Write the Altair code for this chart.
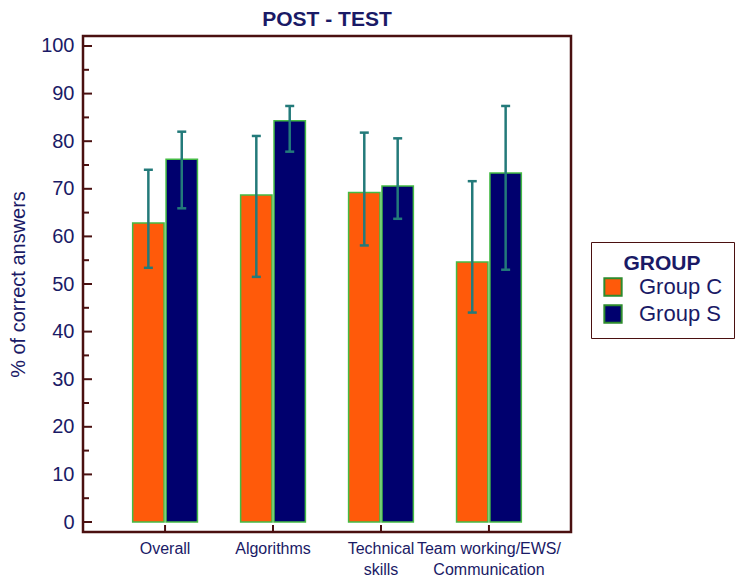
import altair as alt
import pandas as pd

categories = ["Overall", "Algorithms", "Technical skills", "Team working/EWS/Communication"]
groups = ["Group C", "Group S"]
group_c_mean = [62.8, 68.7, 69.2, 54.6]
group_c_low = [53.4, 51.5, 58.1, 44.0]
group_c_high = [74.0, 81.1, 81.8, 71.6]
group_s_mean = [76.2, 84.3, 70.6, 73.3]
group_s_low = [65.9, 77.8, 63.7, 53.0]
group_s_high = [82.0, 87.4, 80.6, 87.4]
major_ticks = [0, 10, 20, 30, 40, 50, 60, 70, 80, 90, 100]
minor_ticks = [5, 15, 25, 35, 45, 55, 65, 75, 85, 95]

rows = []
for i, c in enumerate(categories):
    rows.append({"category": c, "group": groups[0], "mean": group_c_mean[i],
                 "low": group_c_low[i], "high": group_c_high[i]})
    rows.append({"category": c, "group": groups[1], "mean": group_s_mean[i],
                 "low": group_s_low[i], "high": group_s_high[i]})
df = pd.DataFrame(rows)
df_major = pd.DataFrame({"v": major_ticks})
df_minor = pd.DataFrame({"v": minor_ticks})
df_cat = pd.DataFrame({"category": categories})

W, H = 488, 496
NAVY = "#1a1a66"
MAROON = "#4a1010"
FONT = "Liberation Sans"

yscale = alt.Scale(domain=[-2.1, 102.1], nice=False, zero=False)
xscale = alt.Scale(domain=categories, paddingInner=0.4, paddingOuter=0.46)
xoff = alt.XOffset("group:N", scale=alt.Scale(domain=groups, paddingInner=0.06))

label_expr = ("datum.label == 'Technical skills' ? ['Technical', 'skills'] : "
              "datum.label == 'Team working/EWS/Communication' ? ['Team working/EWS/', 'Communication'] : datum.label")

xaxis = alt.Axis(title=None, labelAngle=0, ticks=False, domain=False, grid=False,
                 labelFont=FONT, labelFontSize=16, labelColor=NAVY, labelPadding=8,
                 labelLineHeight=21, labelExpr=label_expr, labelLimit=300)
yaxis = alt.Axis(title="% of correct answers", values=major_ticks, ticks=False, domain=False,
                 grid=False, labelFont=FONT, labelFontSize=20, labelColor=NAVY, labelPadding=9,
                 titleFont=FONT, titleFontSize=20, titleFontWeight="normal", titleColor=NAVY,
                 titlePadding=12)

bars = alt.Chart(df).mark_bar(stroke="#44bb44", strokeWidth=1.5).encode(
    x=alt.X("category:N", sort=categories, scale=xscale, axis=xaxis),
    xOffset=xoff,
    y=alt.Y("mean:Q", scale=yscale, axis=yaxis),
    y2=alt.datum(0),
    color=alt.Color("group:N", scale=alt.Scale(domain=groups, range=["#ff5a0a", "#00006e"]),
                    legend=alt.Legend(title="GROUP", orient="none", legendX=508, legendY=206,
                                      titleFont=FONT, titleFontSize=21, titleColor=NAVY,
                                      titleFontWeight="bold", titleAnchor="middle", titlePadding=2,
                                      labelFont=FONT, labelFontSize=22, labelColor=NAVY,
                                      labelOffset=15, symbolType="square", symbolSize=300,
                                      symbolStrokeColor="#2e8b2e", symbolStrokeWidth=2,
                                      symbolOpacity=1, rowPadding=1, padding=11,
                                      strokeColor=MAROON, fillColor="white")),
)

err = alt.Chart(df).mark_rule(color="#237a7a", strokeWidth=2.5).encode(
    x=alt.X("category:N", sort=categories, scale=xscale),
    xOffset=xoff,
    y=alt.Y("low:Q", scale=yscale),
    y2="high:Q",
)
cap_lo = alt.Chart(df).mark_tick(color="#237a7a", size=9, thickness=2.5, opacity=1).encode(
    x=alt.X("category:N", sort=categories, scale=xscale),
    xOffset=xoff,
    y=alt.Y("low:Q", scale=yscale),
)
cap_hi = alt.Chart(df).mark_tick(color="#237a7a", size=9, thickness=2.5, opacity=1).encode(
    x=alt.X("category:N", sort=categories, scale=xscale),
    xOffset=xoff,
    y=alt.Y("high:Q", scale=yscale),
)

ymaj = alt.Chart(df_major).mark_rule(color=MAROON, strokeWidth=2).encode(
    y=alt.Y("v:Q", scale=yscale), x=alt.value(0), x2=alt.value(9))
ymin = alt.Chart(df_minor).mark_rule(color=MAROON, strokeWidth=2).encode(
    y=alt.Y("v:Q", scale=yscale), x=alt.value(0), x2=alt.value(6))
xt = alt.Chart(df_cat).mark_rule(color=MAROON, strokeWidth=2).encode(
    x=alt.X("category:N", sort=categories, scale=xscale), y=alt.value(H), y2=alt.value(H - 7))

chart = alt.layer(bars, err, cap_lo, cap_hi, ymaj, ymin, xt).properties(
    width=W, height=H,
    background="white",
    title=alt.TitleParams("POST - TEST", font=FONT, fontSize=21, fontWeight="bold",
                          color=NAVY, anchor="middle", offset=6),
    autosize=alt.AutoSizeParams(type="none"),
    padding={"left": 75, "top": 28, "right": 170, "bottom": 52},
).configure_view(stroke=MAROON, strokeWidth=2.5)

chart.save("out.html", embed_options={"renderer": "svg", "actions": False})
